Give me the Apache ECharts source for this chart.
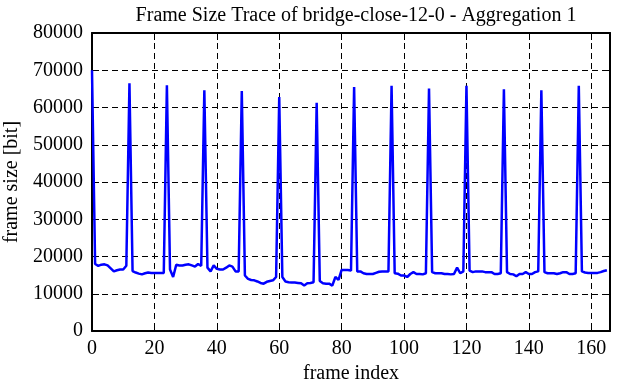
<!DOCTYPE html>
<html>
<head>
<meta charset="utf-8">
<script src="https://cdn.jsdelivr.net/npm/echarts@6/dist/echarts.min.js"></script>
<style>
  html, body { margin: 0; padding: 0; background: #fff; }
  #chart { width: 622px; height: 382px; }
</style>
</head>
<body>
<div id="chart"></div>
<script>
  // frame sizes in bit, one per frame index 0..165 (I-frame every 12 frames)
  var frameSizes = [
    70000, 18000, 17500, 17800, 17900, 17600, 16800, 16000, 16300, 16500, 16500, 17500,
    66500, 16100, 15700, 15400, 15200, 15500, 15700, 15600, 15600, 15600, 15600, 15600,
    66000, 16500, 14500, 17800, 17600, 17600, 17800, 17900, 17600, 17300, 18000, 17500,
    64600, 17000, 16000, 17600, 16700, 16500, 16500, 17000, 17600, 17300, 16000, 16000,
    64400, 14900, 14000, 13700, 13600, 13300, 12900, 12700, 13200, 13400, 13600, 14500,
    62800, 14500, 13300, 13100, 13000, 13000, 12900, 12800, 12200, 12800, 12900, 13100,
    61300, 13400, 12800, 12700, 12700, 12200, 14500, 13700, 16400, 16400, 16400, 16200,
    65500, 16000, 16000, 15500, 15300, 15300, 15300, 15600, 15900, 16000, 16000, 16000,
    65800, 15500, 15400, 14900, 14900, 14500, 15300, 15800, 15300, 15300, 15200, 15500,
    65100, 15800, 15500, 15500, 15500, 15300, 15300, 15200, 15300, 17000, 15500, 16000,
    65800, 16200, 15800, 16000, 16000, 16000, 15800, 15800, 15800, 15300, 15300, 15500,
    64900, 15800, 15300, 15200, 14700, 15300, 15300, 15800, 15300, 15300, 15800, 16000,
    64600, 15800, 15500, 15500, 15500, 15300, 15500, 15800, 15800, 15300, 15300, 15500,
    65800, 16000, 15700, 15600, 15600, 15600, 15600, 15800, 16100, 16300
  ];
  var xRange = [0, 166];
  var yRange = [0, 80000];
  var xStep = 20;
  var yStep = 10000;

  var chartDom = document.getElementById('chart');
  var myChart = echarts.init(chartDom, null, { renderer: 'canvas' });
  var font = 'Liberation Serif, Times New Roman, serif';
  var black = '#000';

  var lineData = frameSizes.map(function (v, i) { return [i, v]; });

  function xAx(pos, main) {
    return {
      type: 'value',
      position: pos,
      min: xRange[0],
      max: xRange[1],
      interval: xStep,
      name: main ? 'frame index' : '',
      nameLocation: 'middle',
      nameGap: 29,
      nameTextStyle: { fontFamily: font, fontSize: 20, color: black },
      axisLine: { show: true, onZero: false, lineStyle: { color: black, width: 2 } },
      axisTick: { show: true, inside: true, length: 7, lineStyle: { color: black, width: 1 } },
      axisLabel: {
        show: main, margin: 8, showMaxLabel: false,
        fontFamily: font, fontSize: 20, color: black,
        formatter: function (v) { return String(v); }
      },
      splitLine: main ? { show: true, lineStyle: { color: black, width: 1, type: [6, 4] } } : { show: false }
    };
  }

  function yAx(pos, main) {
    return {
      type: 'value',
      position: pos,
      min: yRange[0],
      max: yRange[1],
      interval: yStep,
      name: main ? 'frame size [bit]' : '',
      nameLocation: 'middle',
      nameGap: 68,
      nameRotate: 90,
      nameTextStyle: { fontFamily: font, fontSize: 20, color: black },
      axisLine: { show: true, onZero: false, lineStyle: { color: black, width: 2 } },
      axisTick: { show: true, inside: true, length: 7, lineStyle: { color: black, width: 1 } },
      axisLabel: {
        show: main, margin: 9,
        fontFamily: font, fontSize: 20, color: black,
        formatter: function (v) { return String(v); }
      },
      splitLine: main ? { show: true, lineStyle: { color: black, width: 1, type: [6, 4] } } : { show: false }
    };
  }

  var option = {
    animation: false,
    backgroundColor: '#fff',
    title: {
      text: 'Frame Size Trace of bridge-close-12-0 - Aggregation 1',
      left: 351,
      textAlign: 'center',
      top: 1,
      textStyle: { fontFamily: font, fontSize: 20, fontWeight: 'normal', color: black }
    },
    grid: { left: 92, right: 12, top: 33, bottom: 51, containLabel: false, outerBoundsMode: 'none' },
    xAxis: [xAx('bottom', true), xAx('top', false)],
    yAxis: [yAx('left', true), yAx('right', false)],
    series: [
      {
        type: 'line',
        data: lineData,
        showSymbol: false,
        symbol: 'none',
        lineStyle: { color: '#0000ff', width: 2.5 },
        z: 1
      }
    ]
  };
  option && myChart.setOption(option);
</script>
</body>
</html>
